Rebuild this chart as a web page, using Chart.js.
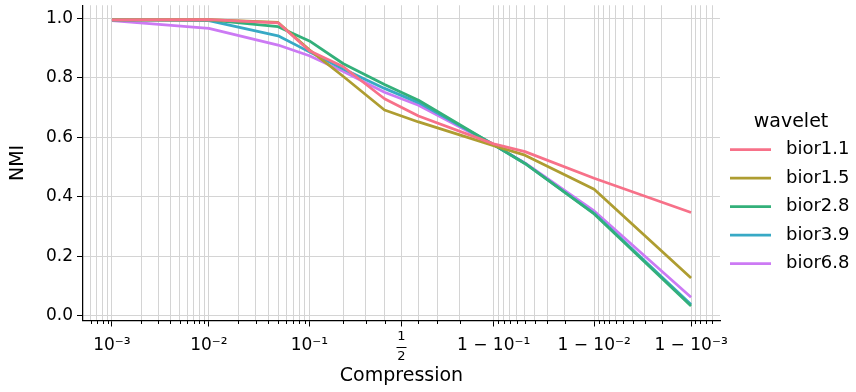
<!DOCTYPE html>
<html>
<head>
<meta charset="utf-8">
<script src="https://cdn.jsdelivr.net/npm/chart.js@4.4.1/dist/chart.umd.min.js"></script>
<style>
  html, body { margin: 0; padding: 0; background: #fff; }
  #wrap { width: 856px; height: 392px; }
</style>
</head>
<body>
<div id="wrap"><canvas id="nmiChart" width="856" height="392"></canvas></div>
<script>
// compression ratios where NMI was measured
const compression = [0.001, 0.01, 0.05, 0.1, 0.2, 0.4, 0.6, 0.9, 0.95, 0.99, 0.999];

const wavelets = ['bior1.1', 'bior1.5', 'bior2.8', 'bior3.9', 'bior6.8'];
const nmiBior11 = [0.996, 0.997, 0.986, 0.892, 0.838, 0.730, 0.672, 0.578, 0.552, 0.462, 0.347];
const nmiBior15 = [0.996, 0.997, 0.987, 0.895, 0.805, 0.692, 0.652, 0.572, 0.540, 0.425, 0.126];
const nmiBior28 = [0.996, 0.996, 0.973, 0.925, 0.848, 0.778, 0.725, 0.575, 0.512, 0.342, 0.032];
const nmiBior39 = [0.996, 0.993, 0.942, 0.888, 0.830, 0.765, 0.717, 0.576, 0.512, 0.344, 0.037];
const nmiBior68 = [0.993, 0.967, 0.911, 0.875, 0.822, 0.752, 0.708, 0.575, 0.514, 0.352, 0.061];
const lineColors = ['#f77189', '#ae9d31', '#33b07a', '#38a9c5', '#cc7af4'];

const majorTicks = [0.001, 0.01, 0.1, 0.5, 0.9, 0.99, 0.999];
const majorLabels = ['10⁻³', '10⁻²', '10⁻¹', ['1', '2'], '1 − 10⁻¹', '1 − 10⁻²', '1 − 10⁻³'];
const yTicks = [0, 0.2, 0.4, 0.6, 0.8, 1.0];

const FONT = '"DejaVu Sans", sans-serif';
const GRID = '#d4d4d4';

// logit axis is drawn as a linear axis of log10(p / (1 - p))
const logit = p => Math.log10(p / (1 - p));

const minorTicks = [];
[0.0001, 0.001, 0.01].forEach(dec => {
    for (let k = 2; k <= 9; k++) {
        const p = dec * k;
        if (p > 0.00055) {
            minorTicks.push(p);
            minorTicks.push(1 - p);
        }
    }
});
[0.2, 0.3, 0.4, 0.6, 0.7, 0.8].forEach(p => minorTicks.push(p));

const allSeries = [nmiBior11, nmiBior15, nmiBior28, nmiBior39, nmiBior68];

const isHalf = v => Math.abs(v) < 1e-9;

// short minor ticks + the bar of the 1/2 label
const axisExtras = {
    id: 'axisExtras',
    afterDraw(chart) {
        const xs = chart.scales.x;
        const ctx = chart.ctx;
        ctx.save();
        ctx.strokeStyle = '#000';
        ctx.lineWidth = 1;
        minorTicks.forEach(p => {
            const px = Math.round(xs.getPixelForValue(logit(p))) + 0.5;
            ctx.beginPath();
            ctx.moveTo(px, xs.top);
            ctx.lineTo(px, xs.top + 3.5);
            ctx.stroke();
        });
        const hx = xs.getPixelForValue(0);
        const hy = Math.round(xs.top + 6 + 20) + 0.5;
        ctx.beginPath();
        ctx.moveTo(hx - 5, hy);
        ctx.lineTo(hx + 5, hy);
        ctx.stroke();
        ctx.restore();
    }
};

// legend drawn to the right of the axes, matplotlib style
const sideLegend = {
    id: 'sideLegend',
    afterDraw(chart) {
        const ctx = chart.ctx;
        ctx.save();
        ctx.fillStyle = '#000';
        ctx.textBaseline = 'middle';
        ctx.textAlign = 'center';
        ctx.font = '19px ' + FONT;
        ctx.fillText('wavelet', 791, 122);
        ctx.textAlign = 'left';
        ctx.font = '18px ' + FONT;
        wavelets.forEach((name, i) => {
            const y = 149.5 + i * 28.5;
            ctx.strokeStyle = lineColors[i];
            ctx.lineWidth = 2.75;
            ctx.beginPath();
            ctx.moveTo(730, y);
            ctx.lineTo(771, y);
            ctx.stroke();
            ctx.fillText(name, 786, y);
        });
        ctx.restore();
    }
};

const ctx = document.getElementById('nmiChart').getContext('2d');
new Chart(ctx, {
    type: 'line',
    data: {
        datasets: wavelets.map((name, i) => ({
            label: name,
            data: compression.map((c, j) => ({ x: logit(c), y: allSeries[i][j] })),
            borderColor: lineColors[i],
            backgroundColor: lineColors[i],
            borderWidth: 2.75,
            borderJoinStyle: 'round',
            pointRadius: 0,
            tension: 0,
            fill: false
        }))
    },
    options: {
        responsive: false,
        animation: false,
        devicePixelRatio: 1,
        layout: { padding: { left: 0, right: 136, top: 0, bottom: 0 } },
        plugins: {
            legend: { display: false },
            tooltip: { enabled: false }
        },
        scales: {
            x: {
                type: 'linear',
                min: -3.2995,
                max: 3.2995,
                afterFit: scale => { scale.height = 71.5; },
                afterBuildTicks: scale => {
                    const t = majorTicks.map(p => ({ value: logit(p), isMajor: true }));
                    minorTicks.forEach(p => t.push({ value: logit(p), isMajor: false }));
                    t.sort((a, b) => a.value - b.value);
                    scale.ticks = t;
                },
                ticks: {
                    autoSkip: false,
                    maxRotation: 0,
                    padding: 0,
                    color: '#000',
                    font: c => (c.tick && isHalf(c.tick.value))
                        ? { family: FONT, size: 13, lineHeight: 1.55 }
                        : { family: FONT, size: 17, lineHeight: 2.2 },
                    callback: (value, index, ticks) => {
                        if (!ticks[index].isMajor) return '';
                        const k = majorTicks.findIndex(p => Math.abs(logit(p) - value) < 1e-6);
                        return majorLabels[k];
                    }
                },
                grid: {
                    color: GRID,
                    lineWidth: 1,
                    tickLength: 6,
                    tickColor: c => (c.tick && c.tick.isMajor) ? '#000' : 'rgba(0,0,0,0)'
                },
                border: { color: '#000', width: 1.25 },
                title: {
                    display: true,
                    text: 'Compression',
                    color: '#000',
                    font: { family: FONT, size: 19 },
                    padding: { top: 0, bottom: 5 }
                }
            },
            y: {
                min: -0.017,
                max: 1.045,
                afterFit: scale => { scale.width = 83; },
                afterBuildTicks: scale => {
                    scale.ticks = yTicks.map(v => ({ value: v }));
                },
                ticks: {
                    padding: 4,
                    color: '#000',
                    font: { family: FONT, size: 17, lineHeight: 0.15 },
                    callback: value => value.toFixed(1)
                },
                grid: {
                    color: GRID,
                    lineWidth: 1,
                    tickLength: 6,
                    tickColor: '#000'
                },
                border: { color: '#000', width: 1.25 },
                title: {
                    display: true,
                    text: 'NMI',
                    color: '#000',
                    font: { family: FONT, size: 19 },
                    padding: { top: 7, bottom: 0 }
                }
            }
        }
    },
    plugins: [axisExtras, sideLegend]
});
</script>
</body>
</html>
